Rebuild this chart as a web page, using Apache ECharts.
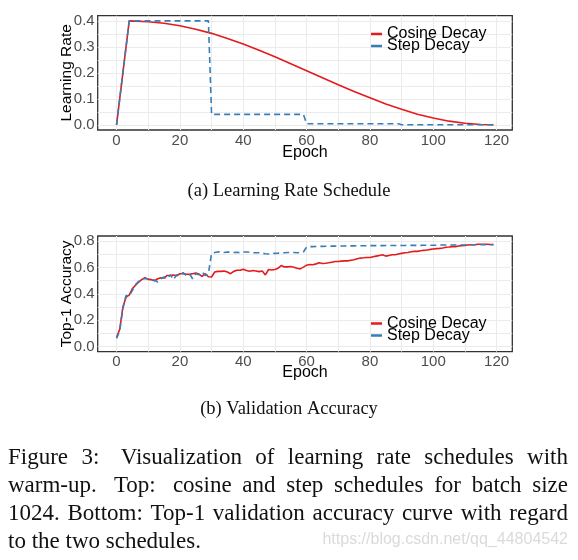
<!DOCTYPE html>
<html><head><meta charset="utf-8">
<script src="https://cdn.jsdelivr.net/npm/echarts@6/dist/echarts.min.js"></script>
<style>html,body{margin:0;padding:0;background:#fff}#c{width:578px;height:560px}</style>
</head><body><div id="c"></div>
<script>
// ---------- data ----------
const lrEpochs = [0, 4, 10, 15, 20, 25, 30, 35, 40, 45, 50, 55, 60, 65, 70, 75, 80, 85, 90, 95, 100, 105, 110, 115, 119];
const lrCosine = [0, 0.400, 0.397, 0.391, 0.381, 0.368, 0.352, 0.332, 0.311, 0.287, 0.262, 0.235, 0.208, 0.181, 0.154, 0.128, 0.104, 0.080, 0.060, 0.041, 0.026, 0.014, 0.006, 0.001, 0.000];
const stepEpochs = [0, 4, 29, 30, 59, 60, 89, 90, 119];
const lrStep = [0, 0.4, 0.4, 0.04, 0.04, 0.004, 0.004, 0.0004, 0.0004];

const accEpochs = Array.from({length: 120}, (_, i) => i);
const accCosine = [
 0.070,0.130,0.300,0.375,0.390,0.440,0.465,0.490,0.510,0.523,
 0.510,0.508,0.500,0.515,0.523,0.520,0.540,0.540,0.543,0.538,
 0.553,0.553,0.550,0.548,0.553,0.558,0.550,0.533,0.553,0.530,
 0.528,0.566,0.571,0.571,0.574,0.566,0.553,0.571,0.579,0.580,
 0.587,0.577,0.572,0.577,0.574,0.569,0.574,0.544,0.585,0.582,
 0.585,0.595,0.615,0.605,0.605,0.608,0.603,0.595,0.590,0.603,
 0.618,0.623,0.621,0.628,0.636,0.631,0.633,0.636,0.641,0.646,
 0.646,0.649,0.651,0.651,0.656,0.659,0.667,0.672,0.674,0.677,
 0.677,0.682,0.687,0.692,0.697,0.687,0.692,0.697,0.697,0.703,
 0.708,0.713,0.715,0.720,0.723,0.723,0.728,0.731,0.733,0.738,
 0.741,0.744,0.746,0.749,0.754,0.756,0.759,0.759,0.764,0.767,
 0.769,0.772,0.774,0.774,0.777,0.777,0.777,0.777,0.775,0.775];
const accStep = [
 0.061,0.120,0.286,0.388,0.383,0.426,0.470,0.495,0.515,0.515,
 0.515,0.510,0.503,0.490,0.515,0.528,0.515,0.546,0.508,0.546,
 0.540,0.561,0.540,0.553,0.515,0.553,0.546,0.566,0.540,0.553,
 0.707,0.714,0.719,0.719,0.714,0.719,0.716,0.714,0.716,0.713,
 0.718,0.718,0.716,0.713,0.713,0.713,0.709,0.705,0.703,0.705,
 0.708,0.710,0.713,0.713,0.714,0.715,0.714,0.713,0.715,0.718,
 0.756,0.759,0.759,0.760,0.761,0.761,0.762,0.762,0.763,0.763,
 0.764,0.764,0.764,0.765,0.765,0.765,0.766,0.766,0.766,0.766,
 0.767,0.767,0.767,0.767,0.767,0.768,0.768,0.768,0.768,0.768,
 0.768,0.768,0.769,0.769,0.769,0.769,0.769,0.770,0.770,0.770,
 0.770,0.770,0.771,0.771,0.771,0.771,0.772,0.772,0.772,0.772,
 0.772,0.773,0.773,0.773,0.773,0.773,0.774,0.774,0.774,0.774];

const xTickLabels = [0, 20, 40, 60, 80, 100, 120];
const lrTickLabels = [0.0, 0.1, 0.2, 0.3, 0.4];
const accTickLabels = [0.0, 0.2, 0.4, 0.6, 0.8];
const seriesNames = ['Cosine Decay', 'Step Decay'];
const captionLines = [
  'Figure 3:  Visualization of learning rate schedules with',
  'warm-up.  Top:  cosine and step schedules for batch size',
  '1024. Bottom: Top-1 validation accuracy curve with regard',
  'to the two schedules.'
];

// ---------- helpers ----------
const zip = (xs, ys) => xs.map((x, i) => [x, ys[i]]);
const near = (v, list) => list.some(t => Math.abs(t - v) < 1e-6);
const RED = '#E41A1C', BLUE = '#377EB8';
const SANS = '"Liberation Sans", Arial, sans-serif';
const SERIF = '"Liberation Serif", "Times New Roman", serif';
const gridLine = {show: true, showMinLine: false, showMaxLine: false, lineStyle: {color: '#ebebeb', width: 1}};

function xAxis(gridIndex, nameGap) {
  return {
    type: 'value', gridIndex, min: -5.95, max: 124.95, minInterval: 10, maxInterval: 10,
    axisLine: {show: false}, axisTick: {show: false}, splitLine: gridLine,
    axisLabel: {margin: 3, fontSize: 15, fontFamily: SANS, color: '#4d4d4d', showMinLabel: true, showMaxLabel: true,
      formatter: v => near(v, xTickLabels) ? String(Math.round(v)) : ''},
    name: 'Epoch', nameLocation: 'middle', nameGap, nameMoveOverlap: false,
    nameTextStyle: {fontSize: 16, fontFamily: SANS, color: '#000'}
  };
}
function yAxis(gridIndex, min, max, step, ticks, name) {
  return {
    type: 'value', gridIndex, min, max, minInterval: step, maxInterval: step,
    axisLine: {show: false}, axisTick: {show: false}, splitLine: gridLine,
    axisLabel: {margin: 3, fontSize: 15, fontFamily: SANS, color: '#4d4d4d',
      formatter: v => near(v, ticks) ? v.toFixed(1) : ''},
    name, nameLocation: 'middle', nameGap: 23, nameRotate: 90, nameMoveOverlap: false,
    nameTextStyle: {fontSize: 15.5, fontFamily: SANS, color: '#000'}
  };
}
function legend(top) {
  return {
    orient: 'vertical', left: 371, top, padding: 0, itemGap: -4,
    itemWidth: 11, itemHeight: 2.5,
    data: seriesNames.map(n => ({name: n, icon: 'rect'})),
    textStyle: {fontSize: 16, fontFamily: SANS, color: '#000', lineHeight: 12}
  };
}
function line(name, xi, data, color, dashed) {
  return {
    name, type: 'line', xAxisIndex: xi, yAxisIndex: xi, data, symbol: 'none',
    color, lineStyle: {color, width: 1.6, type: dashed ? [6, 4] : 'solid'},
    itemStyle: {color}, animation: false, silent: true
  };
}

// justified caption text
const ctx = document.createElement('canvas').getContext('2d');
const CAP_FS = 23;
ctx.font = CAP_FS + 'px ' + SERIF;
function captionElems() {
  const els = [];
  const left = 8, right = 568;
  const ys = [458, 486.2, 514.2, 542];
  captionLines.forEach((ln, li) => {
    const parts = ln.split(/( +)/);
    const words = [], weights = [];
    parts.forEach((p, i) => { if (i % 2 === 0) words.push(p); else weights.push(1 + 0.6 * (p.length - 1)); });
    const widths = words.map(w => ctx.measureText(w).width);
    const total = widths.reduce((a, b) => a + b, 0);
    const last = li === captionLines.length - 1;
    const wsum = weights.reduce((a, b) => a + b, 0);
    const unit = last ? ctx.measureText(' ').width : (right - left - total) / wsum;
    let x = left;
    words.forEach((w, i) => {
      els.push({type: 'text', x, y: ys[li], silent: true,
        style: {text: w, fontSize: CAP_FS, fontFamily: SERIF, fill: '#111', align: 'left', verticalAlign: 'middle'}});
      x += widths[i] + (i < weights.length ? weights[i] * unit : 0);
    });
  });
  return els;
}

const chart = echarts.init(document.getElementById('c'), null, {renderer: 'canvas'});
chart.setOption({
  backgroundColor: '#fff',
  animation: false,
  grid: [
    {left: 97.7, top: 15.7, width: 414.6, height: 114.3, show: true, borderColor: '#333', borderWidth: 1.3, backgroundColor: 'transparent'},
    {left: 97.7, top: 236, width: 414.6, height: 115.7, show: true, borderColor: '#333', borderWidth: 1.3, backgroundColor: 'transparent'}
  ],
  xAxis: [xAxis(0, 14.5), xAxis(1, 12.5)],
  yAxis: [
    yAxis(0, -0.02, 0.42, 0.05, lrTickLabels, 'Learning Rate'),
    yAxis(1, -0.04, 0.84, 0.1, accTickLabels, 'Top-1 Accuracy')
  ],
  legend: [legend(26), legend(315.5)],
  series: [
    line(seriesNames[0], 0, zip(lrEpochs, lrCosine), RED, false),
    line(seriesNames[1], 0, zip(stepEpochs, lrStep), BLUE, true),
    line(seriesNames[0], 1, zip(accEpochs, accCosine), RED, false),
    line(seriesNames[1], 1, zip(accEpochs, accStep), BLUE, true)
  ],
  graphic: [
    {type: 'text', x: 289, y: 191, silent: true,
     style: {text: '(a) Learning Rate Schedule', fontSize: 18.5, fontFamily: SERIF, fill: '#111', align: 'center', verticalAlign: 'middle'}},
    {type: 'text', x: 289, y: 409, silent: true,
     style: {text: '(b) Validation Accuracy', fontSize: 18.5, fontFamily: SERIF, fill: '#111', align: 'center', verticalAlign: 'middle'}},
    ...captionElems(),
    {type: 'text', x: 568, y: 540, silent: true,
     style: {text: 'https://blog.csdn.net/qq_44804542', fontSize: 16, fontFamily: SANS, fill: '#dadada', align: 'right', verticalAlign: 'middle'}}
  ]
});
</script></body></html>
